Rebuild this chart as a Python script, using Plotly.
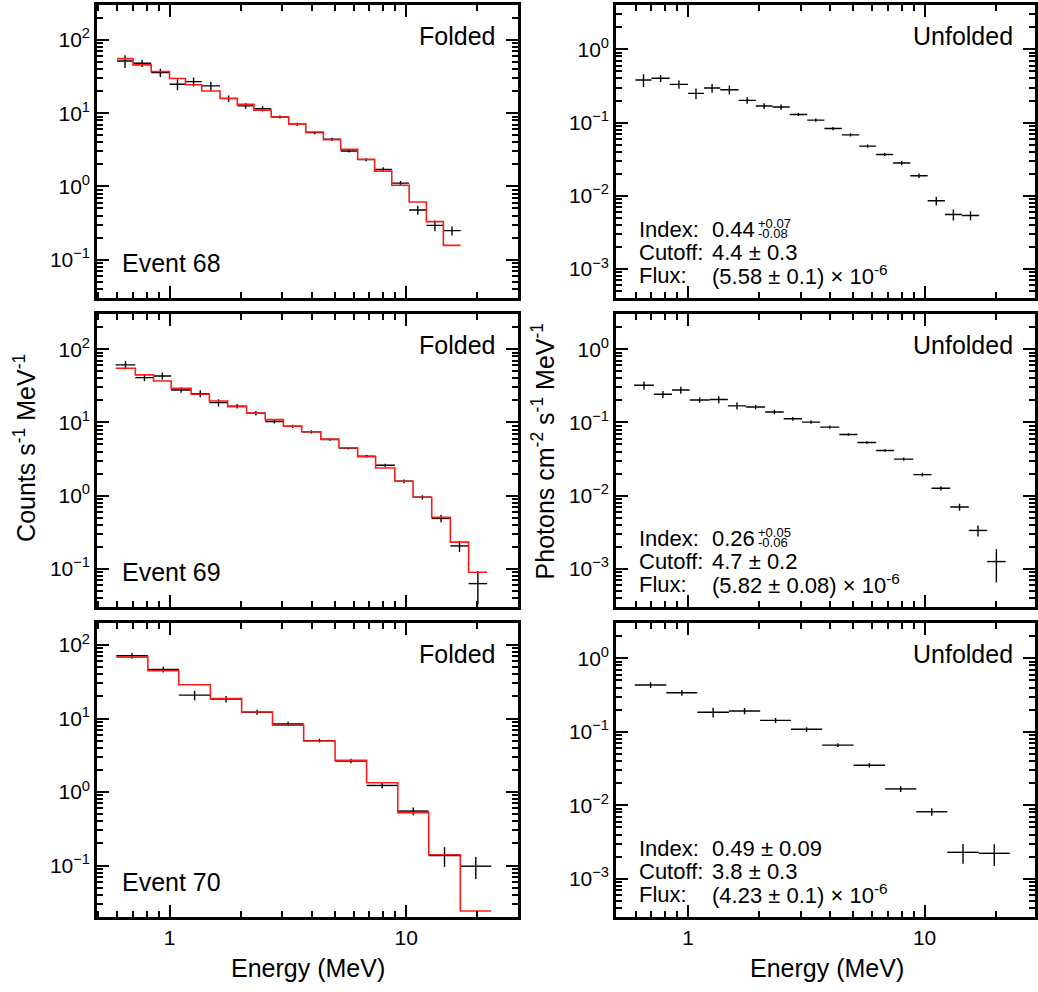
import plotly.graph_objects as go
import numpy as np

W, H = 1038, 992
FONT = "Liberation Sans"

# ---------------- data ----------------
e68_edges = [0.600, 0.701, 0.837, 1.0, 1.168, 1.368, 1.635, 1.934, 2.274, 2.69, 3.19,
             3.77, 4.47, 5.29, 6.24, 7.36, 8.70, 10.3, 12.18, 14.37, 17.0]
e68_folded = [51.6, 48, 35.8, 24.8, 27, 23.6, 15.8, 12.6, 11.5, 8.89, 7.05, 5.43, 4.4,
              3.05, 2.32, 1.71, 1.11, 0.477, 0.294, 0.249]
e68_model = [55.6, 45.6, 37, 29.7, 24.5, 20.1, 16, 13.2, 11, 8.89, 7.1, 5.54, 4.36,
             3.21, 2.35, 1.62, 1.04, 0.613, 0.331, 0.157]
e68_unfolded = [0.381, 0.402, 0.332, 0.25, 0.296, 0.281, 0.201, 0.168, 0.163, 0.129,
                0.108, 0.083, 0.068, 0.0477, 0.0367, 0.028, 0.0188, 0.00855, 0.00556, 0.00538]
e68_relerr = [0.20, 0.11, 0.13, 0.17, 0.14, 0.14, 0.10, 0.09, 0.08, 0.05, 0.05, 0.05,
              0.05, 0.05, 0.05, 0.07, 0.07, 0.14, 0.17, 0.14]

e69_edges = [0.592, 0.717, 0.856, 1.016, 1.234, 1.474, 1.761, 2.118, 2.538, 3.03, 3.62,
             4.36, 5.20, 6.24, 7.43, 8.96, 10.7, 12.83, 15.38, 18.37, 22.0]
e69_folded = [61, 40.9, 43.1, 27.7, 24.7, 18.6, 16.7, 13.4, 10.3, 8.82, 7.45, 5.85, 4.45,
              3.46, 2.6, 1.57, 0.95, 0.489, 0.206, 0.063]
e69_model = [54.9, 44.5, 36.8, 29.2, 24.2, 19.6, 16.4, 13.4, 10.9, 8.9, 7.45, 5.92, 4.5,
             3.39, 2.39, 1.57, 0.95, 0.505, 0.232, 0.09]
e69_unfolded = [0.321, 0.242, 0.277, 0.202, 0.205, 0.168, 0.162, 0.139, 0.112, 0.101,
                0.0863, 0.0685, 0.0532, 0.0413, 0.0315, 0.0194, 0.0126, 0.0070, 0.00335, 0.00126]
e69_relerr = [0.13, 0.11, 0.11, 0.08, 0.11, 0.11, 0.07, 0.07, 0.06, 0.05, 0.05, 0.04,
              0.04, 0.04, 0.05, 0.06, 0.07, 0.11, 0.17, 0.48]

e70_edges = [0.596, 0.81, 1.095, 1.489, 2.018, 2.725, 3.69, 5.01, 6.81, 9.22, 12.46, 16.94, 22.9]
e70_folded = [71.6, 46.6, 20.8, 18.4, 12.2, 8.45, 5.01, 2.65, 1.23, 0.551, 0.137, 0.098]
e70_model = [68.6, 44.7, 28.8, 18.7, 12.3, 8.11, 4.96, 2.7, 1.34, 0.523, 0.14, 0.0241]
e70_unfolded = [0.432, 0.339, 0.184, 0.192, 0.143, 0.108, 0.0659, 0.0351, 0.0167,
                0.00816, 0.00229, 0.00222]
e70_relerr = [0.09, 0.09, 0.15, 0.10, 0.08, 0.07, 0.06, 0.07, 0.09, 0.12, 0.30, 0.33]

event_names = ["Event 68", "Event 69", "Event 70"]
fit_index = ["0.44", "0.26", "0.49 ± 0.09"]
fit_index_up = ["+0.07", "+0.05", None]
fit_index_dn = ["-0.08", "-0.06", None]
fit_cutoff = ["4.4 ± 0.3", "4.7 ± 0.2", "3.8 ± 0.3"]
fit_flux = ["(5.58 ± 0.1) × 10<sup>-6</sup>", "(5.82 ± 0.08) × 10<sup>-6</sup>",
            "(4.23 ± 0.1) × 10<sup>-6</sup>"]

left_ytickvals = [0.1, 1, 10, 100]
left_yticktext = ["10<sup>−1</sup>", "10<sup>0</sup>", "10<sup>1</sup>", "10<sup>2</sup>"]
right_ytickvals = [0.001, 0.01, 0.1, 1]
right_yticktext = ["10<sup>−3</sup>", "10<sup>−2</sup>", "10<sup>−1</sup>", "10<sup>0</sup>"]
xtickvals = [1, 10]
xticktext = ["1", "10"]

events = [
    (e68_edges, e68_folded, e68_model, e68_unfolded, e68_relerr),
    (e69_edges, e69_folded, e69_model, e69_unfolded, e69_relerr),
    (e70_edges, e70_folded, e70_model, e70_unfolded, e70_relerr),
]

# ---------------- layout geometry (pixels) ----------------
col_x = [(97.5, 519.0), (618.0, 1038.0)]
row_y = [(5, 298), (314, 607), (623, 917)]
xranges = [[-0.3055, 1.4707], [-0.3034, 1.4665]]
yranges = [
    ([-1.523, 2.477], [-3.395, 0.605]),
    ([-1.52, 2.48], [-3.52, 0.48]),
    ([-1.70, 2.30], [-3.52, 0.48]),
]


def px(x):
    return x / W


def py(y):
    return 1 - y / H


def aid(letter, k):
    return letter if k == 1 else f"{letter}{k}"


def akey(letter, k):
    return f"{letter}axis" if k == 1 else f"{letter}axis{k}"


fig = go.Figure()
layout = dict(
    width=W, height=H, margin=dict(l=0, r=0, t=0, b=0),
    paper_bgcolor="white", plot_bgcolor="white", showlegend=False,
    font=dict(family=FONT, color="black"),
)
annotations = []
minor_style = dict(ticks="inside", ticklen=6, tickwidth=1.5, tickcolor="black",
                   dtick="D1", showgrid=False)
frame = dict(showline=True, linewidth=3, linecolor="black", mirror="ticks",
             ticks="inside", tickcolor="black", ticklen=12, tickwidth=2,
             showgrid=False, zeroline=False, minor=minor_style)

for r in range(3):
    edges, folded, model, unfolded, relerr = events[r]
    e = np.array(edges)
    centers = np.sqrt(e[:-1] * e[1:])
    xp = e[1:] - centers
    xm = centers - e[:-1]
    yt, yb = row_y[r]
    for c in range(2):
        k = r * 2 + c + 1
        xa, ya = aid("x", k), aid("y", k)
        vals = np.array(folded if c == 0 else unfolded)
        yerr = vals * np.array(relerr)
        fig.add_trace(go.Scatter(
            x=centers, y=vals, mode="markers", xaxis=xa, yaxis=ya,
            marker=dict(size=2, color="black", opacity=0),
            error_x=dict(type="data", array=xp, arrayminus=xm, width=0,
                         thickness=1.4, color="black"),
            error_y=dict(type="data", array=yerr, arrayminus=yerr, width=0,
                         thickness=1.4, color="black"),
            hoverinfo="skip"))
        if c == 0:
            fig.add_trace(go.Scatter(
                x=edges, y=list(model) + [model[-1]], mode="lines", line_shape="hv",
                line=dict(color="#ff1a1a", width=1.6), xaxis=xa, yaxis=ya,
                hoverinfo="skip"))

        x0, x1 = col_x[c]
        layout[akey("x", k)] = dict(
            type="log", domain=[px(x0), px(x1)], range=xranges[c], anchor=ya,
            tickmode="array", tickvals=xtickvals, ticktext=xticktext,
            showticklabels=(r == 2), tickfont=dict(family=FONT, size=21, color="black"),
            **frame)
        layout[akey("y", k)] = dict(
            type="log", domain=[py(yb), py(yt)], range=yranges[r][c], anchor=xa,
            tickmode="array",
            tickvals=left_ytickvals if c == 0 else right_ytickvals,
            ticktext=left_yticktext if c == 0 else right_yticktext,
            tickfont=dict(family=FONT, size=21, color="black"),
            **frame)

    # panel labels
    annotations.append(dict(text="Folded", x=px(498), y=py(yt + 31), xref="paper", yref="paper",
                            xanchor="right", yanchor="middle", showarrow=False,
                            font=dict(size=25)))
    annotations.append(dict(text="Unfolded", x=px(1018), y=py(yt + 31), xref="paper", yref="paper",
                            xanchor="right", yanchor="middle", showarrow=False,
                            font=dict(size=25)))
    annotations.append(dict(text=event_names[r], x=px(120), y=py(yb - 35), xref="paper",
                            yref="paper", xanchor="left", yanchor="middle", showarrow=False,
                            font=dict(size=25)))
    # fit results
    lines = [("Index:", fit_index[r], yb - 69), ("Cutoff:", fit_cutoff[r], yb - 46),
             ("Flux:", fit_flux[r], yb - 23)]
    for lab, val, yy in lines:
        annotations.append(dict(text=lab, x=px(639), y=py(yy), xref="paper", yref="paper",
                                xanchor="left", yanchor="middle", showarrow=False,
                                font=dict(size=22)))
        annotations.append(dict(text=val, x=px(712), y=py(yy), xref="paper", yref="paper",
                                xanchor="left", yanchor="middle", showarrow=False,
                                font=dict(size=22)))
    if fit_index_up[r]:
        annotations.append(dict(
            text=(f"<span style='font-size:13px'>{fit_index_up[r]}</span><br>"
                  f"<span style='font-size:13px'>{fit_index_dn[r]}</span>"),
            x=px(758), y=py(yb - 70), xref="paper", yref="paper", xanchor="left",
            yanchor="middle", align="left", showarrow=False, font=dict(size=8)))

# axis titles
annotations.append(dict(text="Energy (MeV)", x=px(309), y=py(968), xref="paper", yref="paper",
                        xanchor="center", yanchor="middle", showarrow=False, font=dict(size=25)))
annotations.append(dict(text="Energy (MeV)", x=px(829), y=py(968), xref="paper", yref="paper",
                        xanchor="center", yanchor="middle", showarrow=False, font=dict(size=25)))
annotations.append(dict(text="Counts s<sup>-1</sup> MeV<sup>-1</sup>", x=px(25), y=py(448),
                        xref="paper", yref="paper", xanchor="center", yanchor="middle",
                        textangle=-90, showarrow=False, font=dict(size=25)))
annotations.append(dict(text="Photons cm<sup>-2</sup> s<sup>-1</sup> MeV<sup>-1</sup>", x=px(545),
                        y=py(451), xref="paper", yref="paper", xanchor="center",
                        yanchor="middle", textangle=-90, showarrow=False, font=dict(size=25)))

layout["annotations"] = annotations
fig.update_layout(**layout)
fig.write_html("out.html")
